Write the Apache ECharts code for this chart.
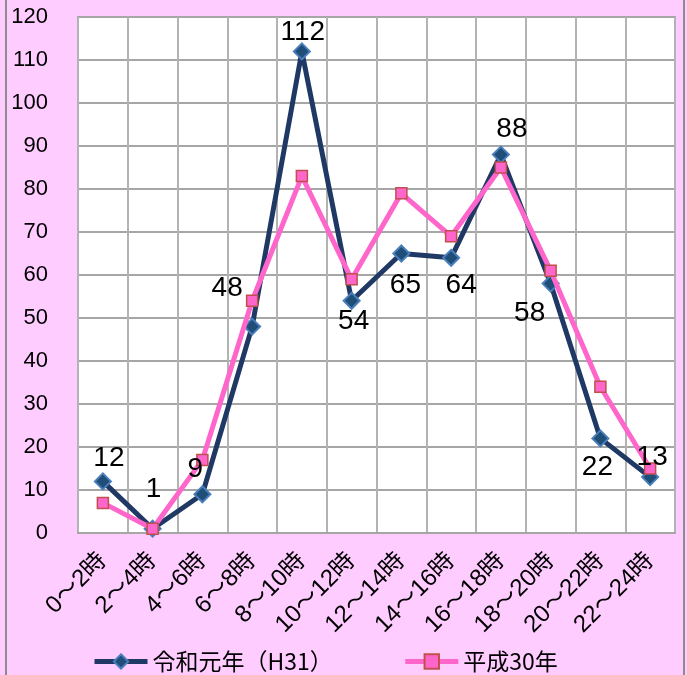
<!DOCTYPE html>
<html>
<head>
<meta charset="utf-8">
<style>
  html, body { margin: 0; padding: 0; background: #ffccff; }
  #chart { width: 687px; height: 675px; }
</style>
</head>
<body>
<div id="chart"></div>
<script src="https://cdn.jsdelivr.net/npm/echarts@6/dist/echarts.min.js"></script>
<script>
    var categories = ['0～2時', '2～4時', '4～6時', '6～8時', '8～10時', '10～12時',
        '12～14時', '14～16時', '16～18時', '18～20時', '20～22時', '22～24時'];
    var reiwa = [12, 1, 9, 48, 112, 54, 65, 64, 88, 58, 22, 13];
    var heisei = [7, 1, 17, 54, 83, 59, 79, 69, 85, 61, 34, 15];

    var font = '"Liberation Sans", "Noto Sans CJK JP", sans-serif';

    // where each 令和元年 value label sits, relative to its marker
    var labelOffsets = [[6, -23], [1, -39], [-7, -25], [-25, -38], [1, -19], [2, 20],
        [4, 32], [10, 27], [11, -25], [-21, 30], [-3, 29], [2, -20]];

    var labelData = reiwa.map(function (v, i) {
        return { value: v, label: { offset: labelOffsets[i] } };
    });

    var myChart = echarts.init(document.getElementById('chart'));
    var option = {
        backgroundColor: '#ffccff',
        animation: false,
        textStyle: { fontFamily: font },
        graphic: [{
            type: 'rect',
            shape: { x: 6, y: -2, width: 678, height: 690 },
            style: { fill: 'none', stroke: '#8c8c8c', lineWidth: 2 }
        }],
        grid: { left: 78, right: 12, top: 17, bottom: 142, show: true,
            backgroundColor: '#ffffff', borderColor: '#a6a6a6', borderWidth: 2 },
        legend: {
            top: 645,
            left: 87,
            itemGap: 70,
            itemWidth: 53,
            itemHeight: 18,
            lineStyle: { width: 5 },
            textStyle: { fontSize: 23, color: '#000', fontFamily: '"Noto Sans CJK JP", sans-serif' },
            data: ['令和元年（H31）', '平成30年']
        },
        xAxis: {
            type: 'category',
            data: categories,
            boundaryGap: true,
            axisLine: { show: true, lineStyle: { color: '#a6a6a6', width: 2 } },
            axisTick: { show: false },
            splitLine: { show: true, interval: 0, lineStyle: { color: '#b3b3b3', width: 2 } },
            axisLabel: { interval: 0, rotate: 45, fontSize: 24, color: '#000', margin: 24, fontFamily: font }
        },
        yAxis: {
            type: 'value',
            min: 0,
            max: 120,
            interval: 10,
            axisLine: { show: false },
            axisTick: { show: false },
            splitLine: { show: true, lineStyle: { color: '#a6a6a6', width: 2 } },
            axisLabel: { fontSize: 22, color: '#000', margin: 30, fontFamily: font }
        },
        series: [
            {
                name: '令和元年（H31）',
                type: 'line',
                data: reiwa,
                z: 2,
                symbol: 'diamond',
                symbolSize: 16,
                lineStyle: { color: '#1f3864', width: 5 },
                itemStyle: { color: '#1f4e79', borderColor: '#4a7ebb', borderWidth: 2 }
            },
            {
                name: '平成30年',
                type: 'line',
                data: heisei,
                z: 3,
                symbol: 'rect',
                symbolSize: 11,
                lineStyle: { color: '#ff66cc', width: 5 },
                itemStyle: { color: '#ff66cc', borderColor: '#c0504d', borderWidth: 1.5 }
            },
            {
                // value labels of 令和元年, drawn above both lines
                name: 'labels',
                type: 'line',
                data: labelData,
                z: 5,
                symbol: 'circle',
                symbolSize: 1,
                silent: true,
                lineStyle: { opacity: 0 },
                itemStyle: { opacity: 0 },
                label: { show: true, position: 'inside', fontSize: 28, color: '#000', opacity: 1, fontFamily: font }
            }
        ]
    };
    myChart.setOption(option);
</script>
</body>
</html>
